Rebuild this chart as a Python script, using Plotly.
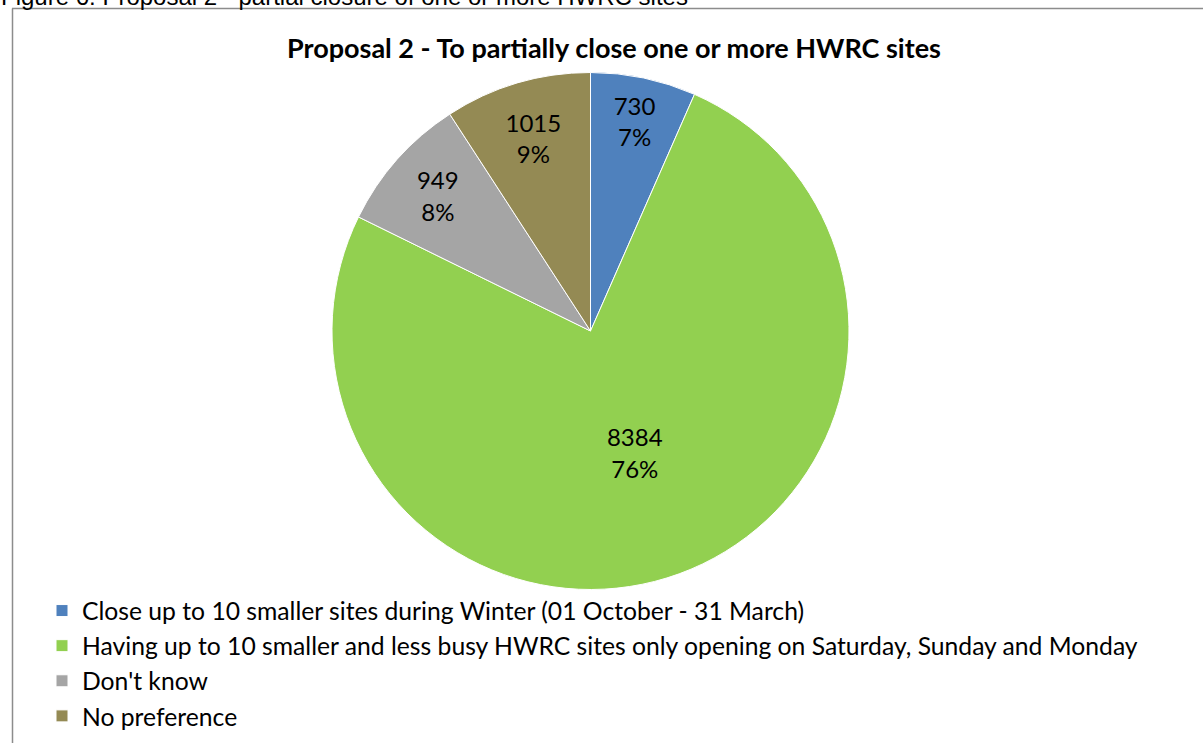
import plotly.graph_objects as go

labels = [
    "Close up to 10 smaller sites during Winter (01 October - 31 March)",
    "Having up to 10 smaller and less busy HWRC sites only opening on Saturday, Sunday and Monday",
    "Don't know",
    "No preference",
]
values = [730, 8384, 949, 1015]
pct_labels = ["7%", "76%", "8%", "9%"]
colors = ["#4F81BD", "#92D050", "#A5A5A5", "#948A54"]

title_text = "Proposal 2 - To partially close one or more HWRC sites"
caption_text = "Figure 6: Proposal 2 - partial closure of one or more HWRC sites"

W, H = 1203, 743

fig = go.Figure(go.Pie(
    labels=labels,
    values=values,
    customdata=pct_labels,
    texttemplate="%{value}<br>%{customdata}",
    textposition="inside",
    insidetextorientation="horizontal",
    sort=False,
    direction="clockwise",
    rotation=0,
    marker=dict(colors=colors, line=dict(color="#FFFFFF", width=1)),
    textfont=dict(family="Lato, Open Sans, sans-serif", size=24, color="#000000"),
    domain=dict(x=[332 / W, 849 / W], y=[1 - 590 / H, 1 - 72 / H]),
    hoverinfo="label+value+percent",
))

border = "#8C8C8C"
fig.add_shape(type="line", xref="paper", yref="paper",
              x0=12 / W, x1=1.0, y0=1 - 8.5 / H, y1=1 - 8.5 / H,
              line=dict(color=border, width=1.5))
fig.add_shape(type="line", xref="paper", yref="paper",
              x0=12.5 / W, x1=12.5 / W, y0=0, y1=1 - 8.5 / H,
              line=dict(color=border, width=1.5))

fig.add_annotation(text="<b>" + title_text + "</b>", xref="paper", yref="paper",
                   x=614 / W, y=1 - 47 / H, xanchor="center", yanchor="middle",
                   showarrow=False,
                   font=dict(family="Lato, Open Sans, sans-serif", size=27, color="#000000"))
fig.add_annotation(text=caption_text, xref="paper", yref="paper",
                   x=0, y=1 - 11 / H, xanchor="left", yanchor="bottom",
                   showarrow=False, borderpad=0,
                   font=dict(family="Liberation Sans, Arial, sans-serif", size=24, color="#000000"))

fig.update_layout(
    width=W, height=H,
    margin=dict(l=0, r=0, t=0, b=0),
    paper_bgcolor="#FFFFFF",
    plot_bgcolor="#FFFFFF",
    uniformtext=dict(minsize=24, mode="show"),
    showlegend=True,
    legend=dict(
        x=42 / W, y=1 - 588 / H, xanchor="left", yanchor="top",
        font=dict(family="Lato, Open Sans, sans-serif", size=24.7, color="#000000"),
        traceorder="normal",
        bgcolor="rgba(0,0,0,0)",
        itemclick=False,
    ),
)

fig.write_html(
    "out.html",
    config={"displayModeBar": False},
    post_script="document.body.style.margin='0';document.body.style.overflow='hidden';",
)
